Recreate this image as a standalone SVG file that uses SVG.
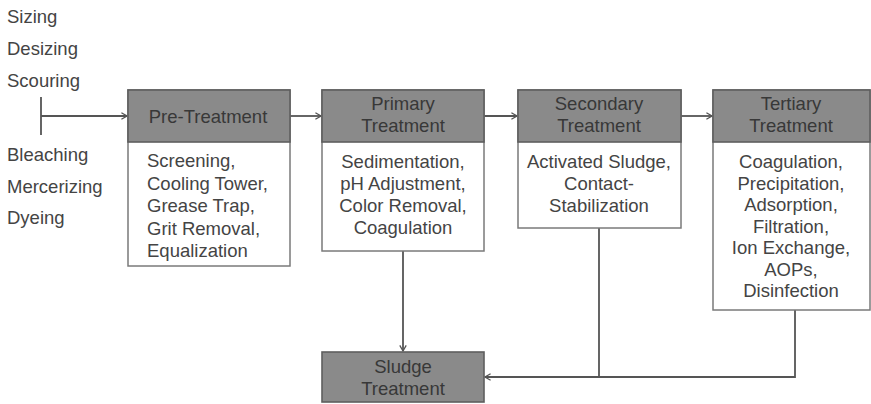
<svg xmlns="http://www.w3.org/2000/svg" width="871" height="404" viewBox="0 0 871 404">
  <defs>
    <marker id="arr" viewBox="0 0 10 10" refX="9" refY="5" markerWidth="8" markerHeight="8" markerUnits="userSpaceOnUse" orient="auto">
      <path d="M2,1 L9,5 L2,9" fill="none" stroke="#555" stroke-width="1.6"/>
    </marker>
    <style>
      text { font-family: "Liberation Sans", Arial, sans-serif; font-size: 18.5px; fill: #444; }
      .c { text-anchor: middle; }
      .ht { fill: #383838; }
      .hd { fill: #8a8a8a; stroke: #5e5e5e; stroke-width: 1.6; }
      .bd { fill: #fff; stroke: #7a7a7a; stroke-width: 1.5; }
      .ln { fill: none; stroke: #555; stroke-width: 1.8; }
    </style>
  </defs>
  <rect width="871" height="404" fill="#fff"/>

  <!-- process sources -->
  <g id="sources">
    <text x="7" y="23">Sizing</text>
    <text x="7" y="55">Desizing</text>
    <text x="7" y="87">Scouring</text>
    <text x="7" y="161">Bleaching</text>
    <text x="7" y="193">Mercerizing</text>
    <text x="7" y="224">Dyeing</text>
  </g>

  <!-- connectors -->
  <g id="connectors">
    <line class="ln" x1="41" y1="97" x2="41" y2="135"/>
    <line class="ln" x1="41" y1="116" x2="127" y2="116" marker-end="url(#arr)"/>
    <line class="ln" x1="290" y1="116" x2="321" y2="116" marker-end="url(#arr)"/>
    <line class="ln" x1="484" y1="116" x2="517" y2="116" marker-end="url(#arr)"/>
    <line class="ln" x1="681" y1="116" x2="712" y2="116" marker-end="url(#arr)"/>
    <line class="ln" x1="403" y1="251" x2="403" y2="351" marker-end="url(#arr)"/>
    <polyline class="ln" points="599,228 599,377"/>
    <polyline class="ln" points="795,310 795,377 485,377" marker-end="url(#arr)"/>
  </g>

  <g id="pre-treatment">
    <rect class="bd" x="128" y="90" width="162" height="176"/>
    <rect class="hd" x="128" y="90" width="162" height="52"/>
    <text class="c ht" x="208" y="123">Pre-Treatment</text>
    <text x="147" y="167">Screening,</text>
    <text x="147" y="189.5">Cooling Tower,</text>
    <text x="147" y="212">Grease Trap,</text>
    <text x="147" y="234.5">Grit Removal,</text>
    <text x="147" y="257">Equalization</text>
  </g>

  <g id="primary">
    <rect class="bd" x="322" y="90" width="162" height="161"/>
    <rect class="hd" x="322" y="90" width="162" height="52"/>
    <text class="c ht" x="403" y="110">Primary</text>
    <text class="c ht" x="403" y="132">Treatment</text>
    <text class="c" x="403" y="168">Sedimentation,</text>
    <text class="c" x="403" y="190">pH Adjustment,</text>
    <text class="c" x="403" y="212">Color Removal,</text>
    <text class="c" x="403" y="234">Coagulation</text>
  </g>

  <g id="secondary">
    <rect class="bd" x="518" y="90" width="163" height="138"/>
    <rect class="hd" x="518" y="90" width="163" height="52"/>
    <text class="c ht" x="599" y="110">Secondary</text>
    <text class="c ht" x="599" y="132">Treatment</text>
    <text class="c" x="599" y="168">Activated Sludge,</text>
    <text class="c" x="599" y="190">Contact-</text>
    <text class="c" x="599" y="212">Stabilization</text>
  </g>

  <g id="tertiary">
    <rect class="bd" x="713" y="90" width="157" height="220"/>
    <rect class="hd" x="713" y="90" width="157" height="52"/>
    <text class="c ht" x="791" y="110">Tertiary</text>
    <text class="c ht" x="791" y="132">Treatment</text>
    <text class="c" x="791" y="168">Coagulation,</text>
    <text class="c" x="791" y="189.5">Precipitation,</text>
    <text class="c" x="791" y="211">Adsorption,</text>
    <text class="c" x="791" y="232.5">Filtration,</text>
    <text class="c" x="791" y="254">Ion Exchange,</text>
    <text class="c" x="791" y="275.5">AOPs,</text>
    <text class="c" x="791" y="297">Disinfection</text>
  </g>

  <g id="sludge">
    <rect class="hd" x="322" y="352" width="162" height="50"/>
    <text class="c ht" x="403" y="373">Sludge</text>
    <text class="c ht" x="403" y="395">Treatment</text>
  </g>
</svg>
